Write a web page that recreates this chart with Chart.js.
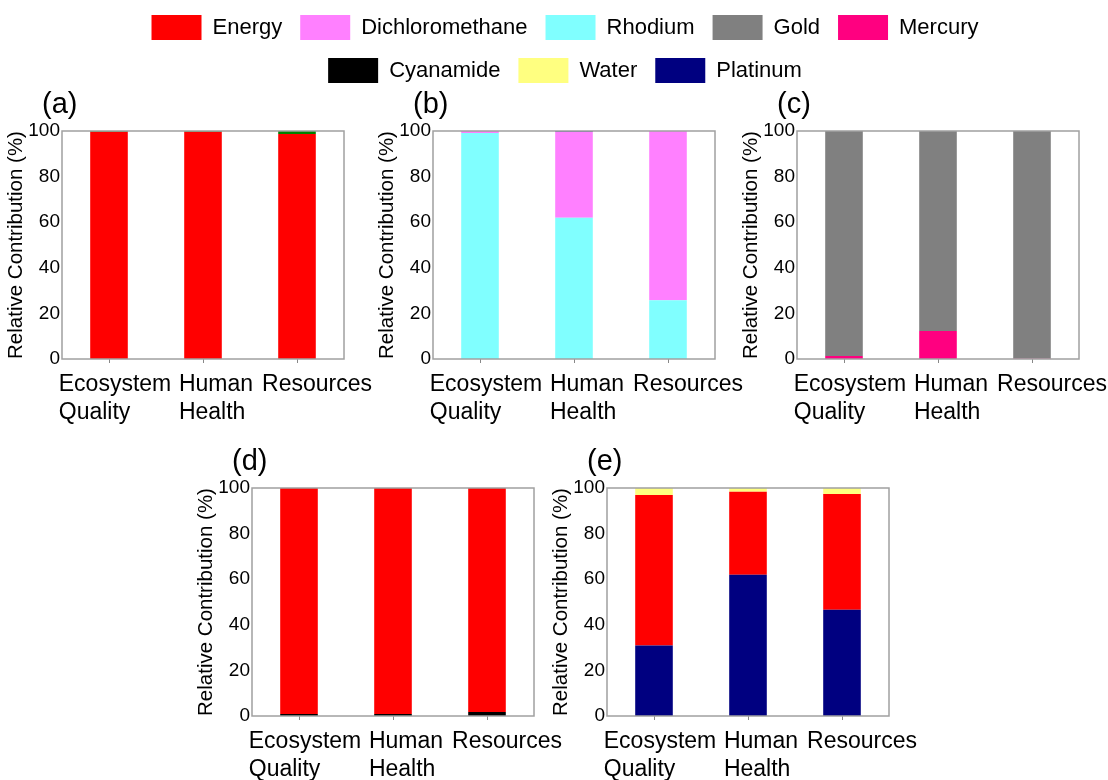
<!DOCTYPE html>
<html>
<head>
<meta charset="utf-8">
<script src="https://cdn.jsdelivr.net/npm/chart.js@4.4.1/dist/chart.umd.min.js"></script>
<style>
  html, body { margin: 0; padding: 0; background: #fff; width: 1108px; height: 780px; overflow: hidden; position: relative; }
  canvas { position: absolute; }
</style>
</head>
<body>
<canvas id="legend" width="1108" height="220" style="left:0;top:-3px"></canvas>
<canvas id="chartA" width="384" height="344" style="left:0;top:85px"></canvas>
<canvas id="chartB" width="384" height="344" style="left:371px;top:85px"></canvas>
<canvas id="chartC" width="384" height="344" style="left:735px;top:85px"></canvas>
<canvas id="chartD" width="384" height="344" style="left:190px;top:442px"></canvas>
<canvas id="chartE" width="384" height="344" style="left:545px;top:442px"></canvas>
<script>
// Relative contribution (%) per impact category, five panels (a)-(e)

const FONT = "'Liberation Sans', Arial, sans-serif";

const categories = [['Ecosystem', 'Quality'], ['Human', 'Health'], ['Resources']];
const yTicks = [0, 20, 40, 60, 80, 100];

// (a)
const energyA = [99.7, 99.7, 98.7];
const otherA  = [0.3, 0.3, 1.3];
// (b)
const rhodiumB  = [99.1, 61.9, 25.8];
const dcmB      = [0.9, 37.8, 74.2];
const platinumB = [0, 0.3, 0];
// (c)
const mercuryC = [1.3, 12.3, 0.1];
const goldC    = [98.7, 87.7, 99.9];
// (d)
const cyanamideD = [0.9, 0.9, 1.8];
const energyD    = [99.1, 99.1, 98.2];
// (e)
const platinumE = [30.9, 61.9, 46.6];
const energyE   = [66.0, 36.5, 50.8];
const waterE    = [3.1, 1.6, 2.6];

const legendNames = ['Energy', 'Dichloromethane', 'Rhodium', 'Gold', 'Mercury', 'Cyanamide', 'Water', 'Platinum'];

const colors = {
    Energy: '#ff0000',
    Dichloromethane: '#ff80ff',
    Rhodium: '#80ffff',
    Gold: '#808080',
    Mercury: '#ff0080',
    Cyanamide: '#000000',
    Water: '#ffff80',
    Platinum: '#000080',
    Other: '#008000'
};

Chart.defaults.font.family = FONT;
Chart.defaults.color = '#000';

// frame, panel tag and left-aligned two-line category labels
const panelDecor = {
    id: 'panelDecor',
    afterDatasetsDraw(chart, args, opts) {
        const { ctx, chartArea: a, scales: { x } } = chart;
        ctx.save();
        ctx.strokeStyle = '#a0a0a0';
        ctx.lineWidth = 1.5;
        ctx.strokeRect(a.left, a.top, a.right - a.left, a.bottom - a.top);

        ctx.fillStyle = '#000';
        ctx.textAlign = 'left';
        ctx.textBaseline = 'alphabetic';
        ctx.font = `29px ${FONT}`;
        ctx.fillText(opts.tag, a.left - 20, a.top - 18);

        ctx.font = `23px ${FONT}`;
        ctx.textBaseline = 'middle';
        categories.forEach((lines, i) => {
            const px = x.getPixelForValue(i);
            // labels drift right a little from one category to the next
            const start = px - ctx.measureText(lines[0]).width / 2 + 6 + 7 * i;
            lines.forEach((t, j) => ctx.fillText(t, start, a.bottom + 26 + j * 28));
        });
        ctx.restore();
    }
};

function bar(name, data) {
    return {
        label: name,
        data,
        backgroundColor: colors[name],
        borderWidth: 0,
        barPercentage: 0.4,
        categoryPercentage: 1.0
    };
}

function panel(id, tag, datasets) {
    new Chart(document.getElementById(id), {
        type: 'bar',
        data: { labels: categories.map(l => l.join(' ')), datasets },
        options: {
            responsive: false,
            animation: false,
            layout: { padding: { top: 46, left: 0, right: 40, bottom: 66 } },
            plugins: {
                legend: { display: false },
                tooltip: { enabled: false },
                panelDecor: { tag }
            },
            scales: {
                x: {
                    stacked: true,
                    ticks: { display: false },
                    grid: { display: true, drawOnChartArea: false, drawTicks: true, tickLength: 4, offset: false, color: '#888' },
                    border: { display: false },
                    afterFit: s => { s.height = 4; }
                },
                y: {
                    stacked: true,
                    min: yTicks[0],
                    max: yTicks[yTicks.length - 1],
                    afterBuildTicks: s => { s.ticks = yTicks.map(v => ({ value: v })); },
                    ticks: { color: '#000', font: { size: 19 }, padding: 2 },
                    grid: { display: false, drawTicks: false },
                    border: { display: false },
                    title: {
                        display: true,
                        text: 'Relative Contribution (%)',
                        color: '#000',
                        font: { size: 20.5 },
                        padding: { top: 4, bottom: 0 }
                    },
                    afterFit: s => { s.width = 62; }
                }
            }
        },
        plugins: [panelDecor]
    });
}

panel('chartA', '(a)', [bar('Energy', energyA), bar('Other', otherA)]);
panel('chartB', '(b)', [bar('Rhodium', rhodiumB), bar('Dichloromethane', dcmB), bar('Platinum', platinumB)]);
panel('chartC', '(c)', [bar('Mercury', mercuryC), bar('Gold', goldC)]);
panel('chartD', '(d)', [bar('Cyanamide', cyanamideD), bar('Energy', energyD)]);
panel('chartE', '(e)', [bar('Platinum', platinumE), bar('Energy', energyE), bar('Water', waterE)]);

// shared legend across the top
new Chart(document.getElementById('legend'), {
    type: 'bar',
    data: {
        labels: [],
        datasets: legendNames.map(n => ({ label: n, data: [], backgroundColor: colors[n], borderWidth: 0 }))
    },
    options: {
        responsive: false,
        animation: false,
        layout: { padding: { left: 90, right: 68 } },
        plugins: {
            tooltip: { enabled: false },
            legend: {
                display: true,
                position: 'top',
                labels: { boxWidth: 50, boxHeight: 25, padding: 18, color: '#000', font: { size: 22 } }
            }
        },
        scales: { x: { display: false }, y: { display: false } }
    }
});
</script>
</body>
</html>
